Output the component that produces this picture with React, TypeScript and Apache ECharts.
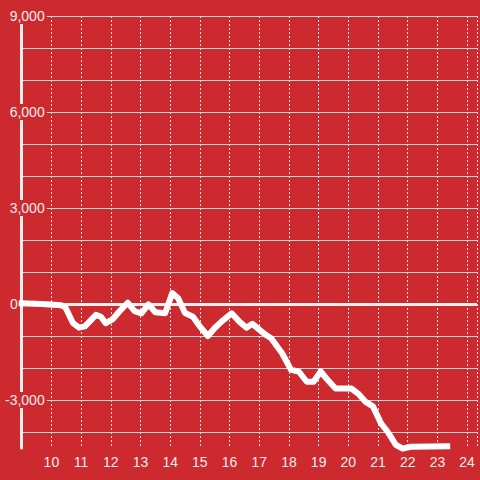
import React, { useEffect, useRef } from "react";
import * as echarts from "echarts";

// hour of day (x) and value (y)
const hours = [
  9.0, 9.67, 10.33, 10.47, 10.73, 10.93, 11.13, 11.5, 11.67, 11.83, 12.07, 12.33,
  12.57, 12.8, 13.03, 13.27, 13.5, 13.83, 14.07, 14.27, 14.5, 14.77, 15.0, 15.27,
  15.5, 15.73, 16.07, 16.33, 16.57, 16.77, 17.0, 17.23, 17.4, 17.77, 18.07, 18.33,
  18.6, 18.83, 19.07, 19.33, 19.57, 20.1, 20.33, 20.57, 20.83, 21.1, 21.33, 21.6,
  21.83, 22.1, 23.33,
];
const values = [
  20, 0, -40, -100, -600, -740, -700, -340, -400, -600, -470, -190,
  40, -220, -290, -10, -260, -290, 340, 180, -280, -400, -700, -1000,
  -750, -550, -290, -550, -740, -620, -800, -970, -1070, -1540, -2060, -2110,
  -2430, -2430, -2110, -2400, -2640, -2640, -2800, -3050, -3200, -3730, -4000, -4400,
  -4520, -4460, -4450,
];
const gridValues = [-4000, -3000, -2000, -1000, 1000, 2000, 3000, 4000, 5000, 6000, 7000, 8000, 9000];
const zeroValue = 0;

const RED = "#cc2a2f";
const TEXT = "#f5ecec";
const FONT = "'Liberation Sans', Arial, sans-serif";

export default function App() {
  const ref = useRef<HTMLDivElement>(null);
  useEffect(() => {
    if (!ref.current) return;
    const chart = echarts.init(ref.current, null, { renderer: "svg" });
    chart.setOption({
      animation: false,
      backgroundColor: RED,
      textStyle: { fontFamily: FONT },
      grid: { left: 20, right: 0, top: 16, bottom: 32 },
      xAxis: {
        type: "value",
        min: 9,
        max: 24 + 1 / 3,
        interval: 1,
        axisLine: { show: false },
        axisTick: { show: false },
        splitLine: { show: true, lineStyle: { color: "#e8e8e8", width: 1, type: [2, 2] } },
        axisLabel: {
          color: TEXT,
          fontSize: 14,
          fontFamily: FONT,
          margin: 7,
          formatter: (v: number) => (Number.isInteger(v) && v >= 10 ? String(v) : ""),
        },
      },
      yAxis: {
        type: "value",
        min: -4500,
        max: 9000,
        interval: 1500,
        z: 3,
        axisLine: { show: true, lineStyle: { color: "#eeeeee", width: 3 } },
        axisTick: { show: false },
        splitLine: { show: false },
        axisLabel: {
          margin: -25,
          fontFamily: FONT,
          formatter: (v: number) => {
            if (v % 3000 !== 0) return "";
            if (v === 0) return "{z|0}";
            return "{b|" + v.toLocaleString("en-US") + "}";
          },
          rich: {
            b: {
              color: TEXT,
              fontSize: 14,
              fontFamily: FONT,
              lineHeight: 14,
              backgroundColor: RED,
              padding: [1, 2, 1, 2],
            },
            z: {
              color: TEXT,
              fontSize: 14,
              fontFamily: FONT,
              lineHeight: 14,
              padding: [1, 29, 1, 0],
            },
          },
        },
      },
      series: [
        {
          type: "line",
          z: 4,
          clip: false,
          symbol: "none",
          showSymbol: false,
          data: hours.map((h, i) => [h, values[i]]),
          lineStyle: { color: "#ffffff", width: 6, cap: "square", join: "round" },
          markLine: {
            z: 1,
            silent: true,
            symbol: "none",
            label: { show: false },
            animation: false,
            data: [
              ...gridValues.map((v) => ({
                yAxis: v,
                lineStyle: { color: "#d6d6d6", width: 1, type: "solid" },
              })),
              { yAxis: zeroValue, lineStyle: { color: "#f0eeee", width: 3, type: "solid" } },
            ],
          },
        },
      ],
    });
    return () => chart.dispose();
  }, []);
  return (
    <div
      ref={ref}
      style={{ position: "fixed", left: 0, top: 0, width: 480, height: 480 }}
    />
  );
}
